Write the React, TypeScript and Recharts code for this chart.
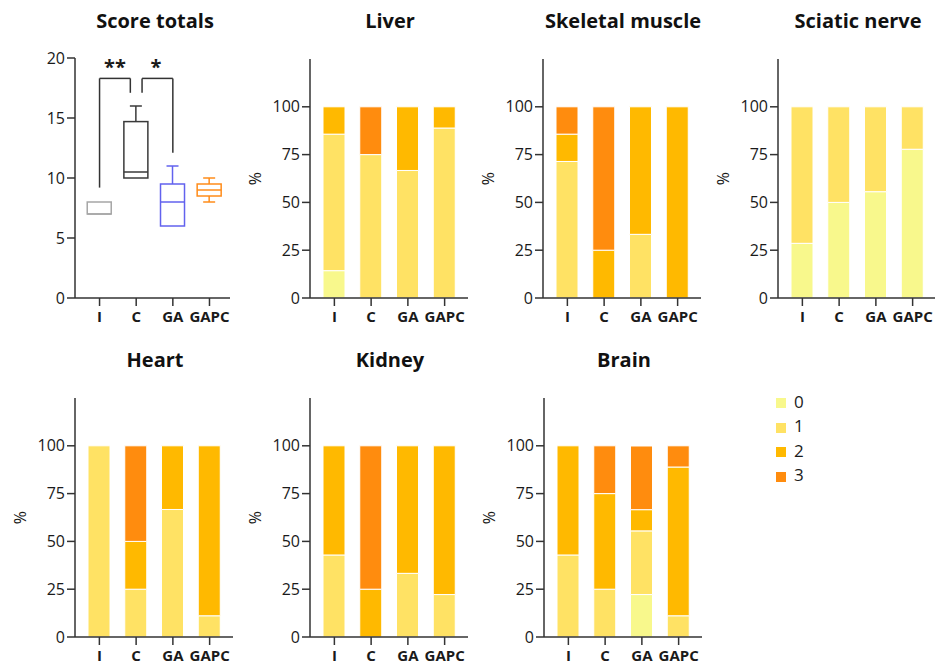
import React from "react";
import {
  BarChart,
  ComposedChart,
  Bar,
  XAxis,
  YAxis,
  ReferenceLine,
  ReferenceDot,
  Legend,
} from "recharts";

const groups = ["I", "C", "GA", "GAPC"];
const scores = ["0", "1", "2", "3"];
const scoreColors = ["#f8f88c", "#ffe264", "#ffb900", "#ff8c0e"];

// score totals, box plot per group
const boxMin = [7, 10, 6, 8];
const boxQ1 = [7, 10, 6, 8.5];
const boxMedian = [7, 10.5, 8, 9];
const boxQ3 = [8, 14.7, 9.5, 9.5];
const boxMax = [8, 16, 11, 10];
const boxColors = ["#a6a6a6", "#3a3a3a", "#6262ee", "#ff8c1a"];

// significance brackets: [x1, y1, x2, y2] in data units
const bracketIC = [
  [0, 9.2, 0, 18.3],
  [0, 18.3, 0.84, 18.3],
  [0.84, 18.3, 0.84, 17.1],
];
const bracketCGA = [
  [1.16, 17.1, 1.16, 18.3],
  [1.16, 18.3, 2, 18.3],
  [2, 18.3, 2, 12.1],
];
const stars = [
  { x: 0.42, y: 19.3, text: "**" },
  { x: 1.54, y: 19.3, text: "*" },
];

// % of animals with score 0..3, one row per group (I, C, GA, GAPC)
const liver = [[14.3, 71.4, 14.3, 0], [0, 75, 0, 25], [0, 66.7, 33.3, 0], [0, 88.9, 11.1, 0]];
const skeletal = [[0, 71.4, 14.3, 14.3], [0, 0, 25, 75], [0, 33.3, 66.7, 0], [0, 0, 100, 0]];
const sciatic = [[28.6, 71.4, 0, 0], [50, 50, 0, 0], [55.6, 44.4, 0, 0], [77.8, 22.2, 0, 0]];
const heart = [[0, 100, 0, 0], [0, 25, 25, 50], [0, 66.7, 33.3, 0], [0, 11.1, 88.9, 0]];
const kidney = [[0, 42.9, 57.1, 0], [0, 0, 25, 75], [0, 33.3, 66.7, 0], [0, 22.2, 77.8, 0]];
const brain = [[0, 42.9, 57.1, 0], [0, 25, 50, 25], [22.2, 33.3, 11.1, 33.3], [0, 11.1, 77.8, 11.1]];

const axisColor = "#333";
const textColor = "#1a1a1a";
const xTick = { fontSize: 15, fontWeight: 700, fill: textColor };
const yTick = { fontSize: 16, fill: textColor };

function Title({ text }: { text: string }) {
  return (
    <div
      style={{
        position: "absolute",
        left: 70,
        top: 7,
        width: 160,
        textAlign: "center",
        fontSize: 20,
        fontWeight: 700,
        color: "#111",
        whiteSpace: "nowrap",
      }}
    >
      {text}
    </div>
  );
}

function BoxShape(props: any) {
  const { x, y, width, height, payload } = props;
  const top = Math.min(y, y + height);
  const h = Math.abs(height);
  const span = payload.max - payload.min;
  const py = (v: number) => top + ((payload.max - v) / span) * h;
  const cx = x + width / 2;
  const color = boxColors[groups.indexOf(payload.group)];
  const cap = 6;
  return (
    <g stroke={color} strokeWidth={1.5} fill="none">
      <rect x={x} y={py(payload.q3)} width={width} height={py(payload.q1) - py(payload.q3)} />
      <line x1={x} x2={x + width} y1={py(payload.median)} y2={py(payload.median)} />
      {payload.max > payload.q3 && (
        <>
          <line x1={cx} x2={cx} y1={py(payload.max)} y2={py(payload.q3)} />
          <line x1={cx - cap} x2={cx + cap} y1={py(payload.max)} y2={py(payload.max)} />
        </>
      )}
      {payload.min < payload.q1 && (
        <>
          <line x1={cx} x2={cx} y1={py(payload.q1)} y2={py(payload.min)} />
          <line x1={cx - cap} x2={cx + cap} y1={py(payload.min)} y2={py(payload.min)} />
        </>
      )}
    </g>
  );
}

function ScorePanel({ left, top }: { left: number; top: number }) {
  const data = groups.map((g, i) => ({
    x: i,
    group: g,
    min: boxMin[i],
    q1: boxQ1[i],
    median: boxMedian[i],
    q3: boxQ3[i],
    max: boxMax[i],
  }));
  return (
    <div style={{ position: "absolute", left: left - 70, top }}>
      <Title text="Score totals" />
      <ComposedChart width={230} height={335} data={data} margin={{ top: 58, right: 5, bottom: 0, left: 0 }}>
        <XAxis
          type="number"
          dataKey="x"
          domain={[-0.67, 3.56]}
          ticks={[0, 1, 2, 3]}
          tickFormatter={(v) => groups[v]}
          allowDataOverflow
          height={37}
          tick={xTick}
          tickSize={8}
          tickMargin={5}
          axisLine={{ stroke: axisColor, strokeWidth: 1.5 }}
          tickLine={{ stroke: axisColor, strokeWidth: 1.5 }}
        />
        <YAxis
          domain={[0, 20]}
          ticks={[0, 5, 10, 15, 20]}
          width={70}
          tick={yTick}
          tickSize={8}
          axisLine={{ stroke: axisColor, strokeWidth: 1.5 }}
          tickLine={{ stroke: axisColor, strokeWidth: 1.5 }}
        />
        <Bar
          dataKey={(d: any) => [d.min, d.max]}
          barSize={24}
          shape={BoxShape}
          isAnimationActive={false}
        />
        {[...bracketIC, ...bracketCGA].map((s, i) => (
          <ReferenceLine
            key={i}
            segment={[
              { x: s[0], y: s[1] },
              { x: s[2], y: s[3] },
            ]}
            stroke={axisColor}
            strokeWidth={1.5}
          />
        ))}
        {stars.map((s, i) => (
          <ReferenceDot
            key={i}
            x={s.x}
            y={s.y}
            r={2}
            fill="none"
            stroke="none"
            label={{ value: s.text, position: "center", fontSize: 20, fontWeight: 700, fill: textColor }}
          />
        ))}
      </ComposedChart>
    </div>
  );
}

function StackPanel({ title, rows, left, top }: { title: string; rows: number[][]; left: number; top: number }) {
  const data = groups.map((g, i) => ({
    group: g,
    s0: rows[i][0],
    s1: rows[i][1],
    s2: rows[i][2],
    s3: rows[i][3],
  }));
  return (
    <div style={{ position: "absolute", left: left - 70, top }}>
      <Title text={title} />
      <BarChart width={233} height={335} data={data} margin={{ top: 59, right: 5, bottom: 0, left: 0 }}>
        <XAxis
          dataKey="group"
          height={37}
          padding={{ left: 6, right: 5 }}
          tick={xTick}
          tickSize={8}
          tickMargin={5}
          axisLine={{ stroke: axisColor, strokeWidth: 1.5 }}
          tickLine={{ stroke: axisColor, strokeWidth: 1.5 }}
        />
        <YAxis
          domain={[0, 125]}
          ticks={[0, 25, 50, 75, 100]}
          width={70}
          tick={yTick}
          tickSize={8}
          axisLine={{ stroke: axisColor, strokeWidth: 1.5 }}
          tickLine={{ stroke: axisColor, strokeWidth: 1.5 }}
          label={{
            value: "%",
            angle: -90,
            position: "insideLeft",
            offset: 15,
            fontSize: 16,
            fill: textColor,
            style: { textAnchor: "middle" },
          }}
        />
        {scores.map((s, k) => (
          <Bar
            key={s}
            dataKey={`s${k}`}
            name={s}
            stackId="a"
            fill={scoreColors[k]}
            stroke="#fff"
            strokeWidth={1}
            barSize={22}
            isAnimationActive={false}
          />
        ))}
      </BarChart>
    </div>
  );
}

function ScoreLegend({ left, top }: { left: number; top: number }) {
  return (
    <div style={{ position: "absolute", left, top }}>
      <BarChart width={100} height={110} data={[]} margin={{ top: 0, right: 0, bottom: 0, left: 0 }}>
        {scores.map((s, k) => (
          <Bar key={s} dataKey={`s${k}`} name={s} fill={scoreColors[k]} isAnimationActive={false} />
        ))}
        <Legend
          layout="vertical"
          verticalAlign="top"
          align="left"
          iconType="square"
          iconSize={10}
          wrapperStyle={{ left: 0, top: 0, lineHeight: "24.4px", fontSize: 17 }}
          formatter={(value) => <span style={{ color: textColor, marginLeft: 4 }}>{value}</span>}
        />
      </BarChart>
    </div>
  );
}

export default function App() {
  return (
    <div
      style={{
        position: "absolute",
        left: 0,
        top: 0,
        width: 935,
        height: 669,
        overflow: "hidden",
        background: "#fff",
        fontFamily: "'Open Sans', sans-serif",
      }}
    >
      <ScorePanel left={75} top={0} />
      <StackPanel title="Liver" rows={liver} left={310} top={0} />
      <StackPanel title="Skeletal muscle" rows={skeletal} left={543} top={0} />
      <StackPanel title="Sciatic nerve" rows={sciatic} left={778} top={0} />
      <StackPanel title="Heart" rows={heart} left={75} top={339} />
      <StackPanel title="Kidney" rows={kidney} left={310} top={339} />
      <StackPanel title="Brain" rows={brain} left={544} top={339} />
      <ScoreLegend left={776} top={390} />
    </div>
  );
}
